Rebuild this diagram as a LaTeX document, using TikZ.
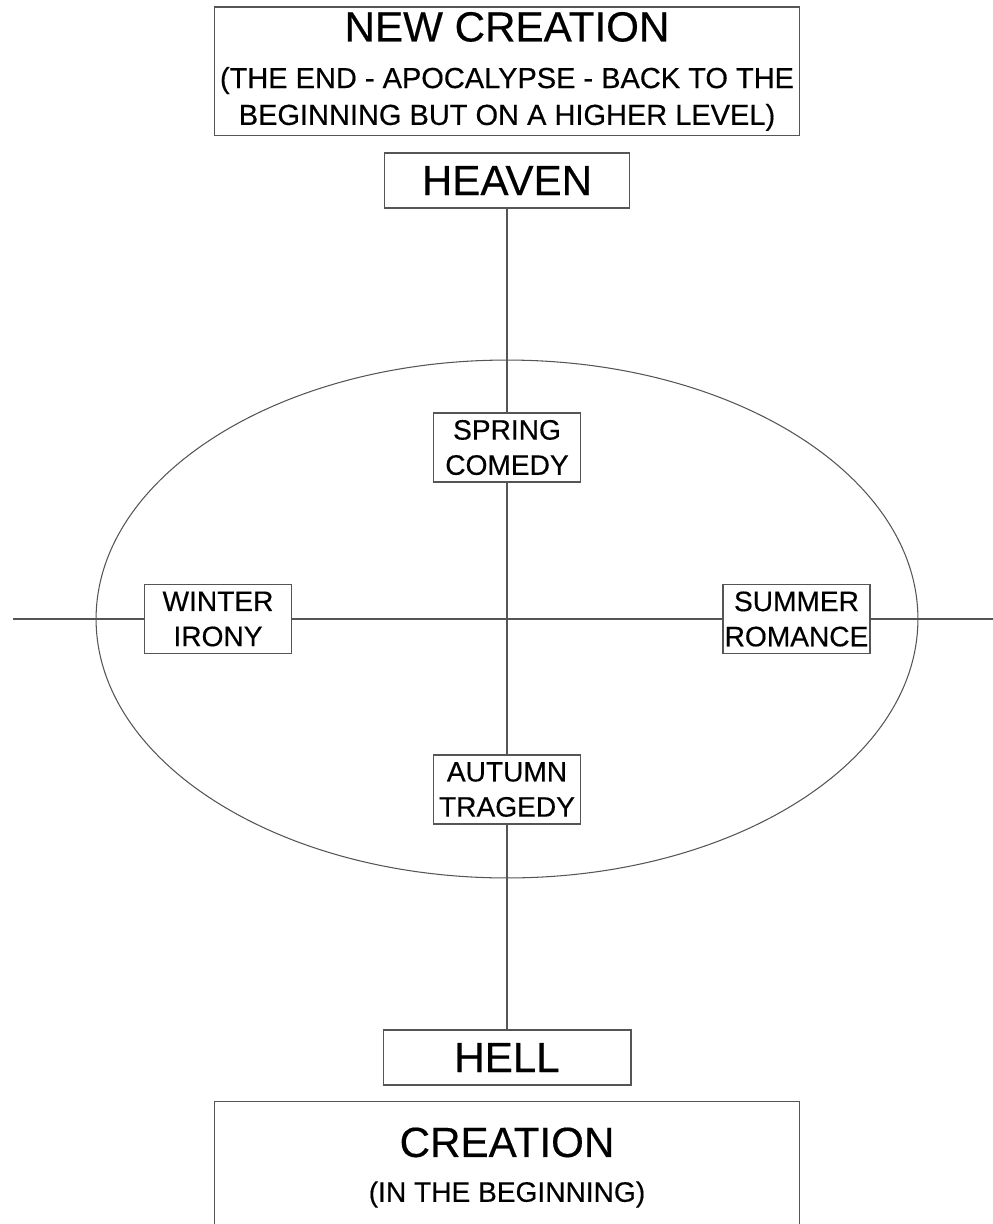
\documentclass[tikz,border=0pt]{standalone}
\usepackage{fontspec}
\setmainfont{Liberation Sans}[FakeBold=0.4]
\usetikzlibrary{positioning}
\definecolor{LineGray}{RGB}{85,85,85}

\begin{document}
\begin{tikzpicture}[x=0.02cm,y=-0.02cm,line width=0.6pt,
  box/.style={draw=LineGray,fill=white,inner sep=0pt,align=center},
  realm/.style={box,minimum width=4.9cm,minimum height=1.1cm,font=\fontsize{24}{28}\selectfont},
  season/.style={box,minimum width=2.94cm,minimum height=1.38cm,font=\fontsize{16}{20}\selectfont},
  wide/.style={box,minimum width=11.7cm,font=\fontsize{16.5}{21}\selectfont}]
\useasboundingbox (0,0) rectangle (993,1224);
\coordinate (o) at (507,619);
\coordinate (west) at (13,619);
\coordinate (east) at (993,619);
\draw[LineGray] (o) ellipse [x radius=8.22cm,y radius=5.18cm];
\node[realm] (heaven) at (507,180.5) {HEAVEN};
\node[realm,minimum width=4.96cm] (hell) at (507,1057.5) {HELL};
\node[wide,minimum height=2.58cm,above=0.32cm of heaven] (newcreation) {{\fontsize{24}{28}\selectfont NEW CREATION}\\[5.5pt](THE END - APOCALYPSE - BACK TO THE\\BEGINNING BUT ON A HIGHER LEVEL)};
\node[wide,minimum height=2.66cm,below=0.3cm of hell] (creation) {{\fontsize{24}{28}\selectfont CREATION}\\[4.5pt]{\fontsize{16}{20}\selectfont (IN THE BEGINNING)}};
\node[season] (spring) at (507,447.5) {SPRING\\COMEDY};
\node[season] (autumn) at (507,789.5) {AUTUMN\\TRAGEDY};
\node[season] (winter) at (218,619) {WINTER\\IRONY};
\node[season] (summer) at (796.5,619) {SUMMER\\ROMANCE};
\draw[LineGray] (heaven) -- (spring) -- (autumn) -- (hell);
\draw[LineGray] (west) -- (winter) -- (summer) -- (east);
\end{tikzpicture}
\end{document}
